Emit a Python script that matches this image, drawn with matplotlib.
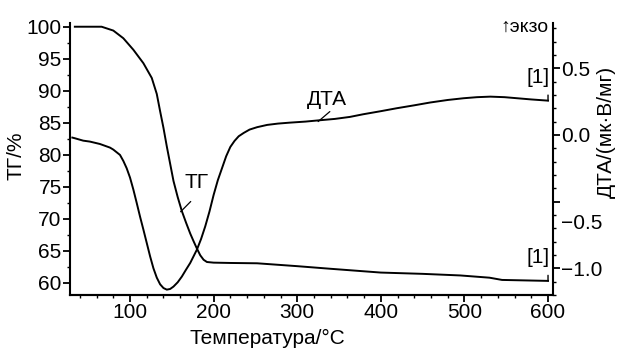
import numpy as np
import matplotlib
matplotlib.use("Agg")
import matplotlib.pyplot as plt
from matplotlib.ticker import MultipleLocator, FixedLocator
import matplotlib.transforms as mtransforms

plt.rcParams['font.family'] = ['Liberation Sans', 'DejaVu Sans']

# ТГ curve (mass, %)
temp_tg = [34, 66, 80, 92, 104, 116, 126, 132, 136, 140, 144, 148, 152, 157, 162, 167,
           172, 176, 180, 184, 188, 192, 200, 220, 252, 300, 339, 400, 450, 495, 530,
           545, 600]
tg = [100, 100, 99.4, 98.2, 96.4, 94.3, 92.0, 89.5, 86.8, 84.2, 81.3, 78.6, 75.9, 73.4,
      71.2, 69.4, 67.7, 66.5, 65.35, 64.3, 63.6, 63.25, 63.15, 63.1, 63.05, 62.6, 62.2,
      61.6, 61.4, 61.15, 60.8, 60.45, 60.3]

# ДТА curve (мкВ/мг)
temp_dta = [31, 34, 44, 52, 64, 76, 80, 88, 92, 96, 100, 104, 108, 112, 116, 120, 124,
            128, 132, 136, 140, 144, 148, 152, 157, 162, 167, 172, 176, 180, 185, 190,
            195, 200, 205, 210, 215, 220, 225, 230, 236, 243, 252, 264, 277, 291, 310,
            327, 345, 363, 379, 400, 419, 440, 459, 480, 499, 515, 531, 548, 563, 580,
            600]
dta = [-0.02, -0.025, -0.043, -0.05, -0.068, -0.095, -0.11, -0.15, -0.195, -0.25, -0.32,
       -0.41, -0.51, -0.613, -0.71, -0.81, -0.91, -1.0, -1.07, -1.12, -1.148, -1.16,
       -1.155, -1.137, -1.105, -1.062, -1.01, -0.96, -0.91, -0.86, -0.78, -0.685, -0.575,
       -0.45, -0.34, -0.25, -0.16, -0.09, -0.045, -0.01, 0.015, 0.04, 0.058, 0.075, 0.085,
       0.092, 0.1, 0.11, 0.12, 0.135, 0.155, 0.178, 0.2, 0.222, 0.243, 0.262, 0.275,
       0.283, 0.287, 0.283, 0.275, 0.266, 0.257]

tg_ticks = [60, 65, 70, 75, 80, 85, 90, 95, 100]
dta_ticks = [-1.0, -0.5, 0.0, 0.5]
temp_ticks = [100, 200, 300, 400, 500, 600]

fig = plt.figure(figsize=(6.2, 3.52), dpi=100)
ax = fig.add_axes([0.1129, 0.162, 0.7791, 0.773])
ax2 = ax.twinx()

fs = 15
lw = 1.4

ax.plot(temp_tg, tg, color='black', lw=lw)
ax2.plot(temp_dta, dta, color='black', lw=lw)

ax.set_xlim(28.2, 606)
ax.set_ylim(58.1, 100.6)
ax2.set_ylim(-1.2, 0.84)

ax.xaxis.set_major_locator(FixedLocator(temp_ticks))
ax.xaxis.set_minor_locator(MultipleLocator(20))
ax.yaxis.set_major_locator(FixedLocator(tg_ticks))
ax.yaxis.set_minor_locator(MultipleLocator(2.5))
ax2.yaxis.set_major_locator(FixedLocator(dta_ticks))
ax2.yaxis.set_minor_locator(MultipleLocator(0.1))
ax2.yaxis.set_major_formatter(plt.FuncFormatter(lambda v, p: f"{v:.1f}".replace('-', '\u2212')))

for a in (ax, ax2):
    a.spines['top'].set_visible(False)
    for s in a.spines.values():
        s.set_linewidth(1.5)
    a.tick_params(which='major', direction='out', length=5, width=1.3, labelsize=fs, pad=1)
    a.tick_params(which='minor', direction='out', length=2.5, width=1)
ax2.spines['left'].set_visible(False)
ax.spines['right'].set_visible(False)

ax.set_xlabel('Температура/°C', fontsize=fs)
ax.xaxis.set_label_coords(0.408, -0.125)
ax.set_ylabel('ТГ/%', fontsize=fs)
ax.yaxis.set_label_coords(-0.093, 0.51)
ax2.set_ylabel('ДТА/(мк·В/мг)', fontsize=fs, rotation=90)
ax2.yaxis.set_label_coords(1.091, 0.6)

# curve labels with pointer lines
ax.text(179.8, 75.6, 'ТГ', fontsize=fs, ha='center', va='center')
ax.annotate('', xy=(160.5, 71.1), xytext=(172.6, 72.7),
            arrowprops=dict(arrowstyle='-', lw=0.9, shrinkA=0, shrinkB=0))
ax2.text(335, 0.265, 'ДТА', fontsize=fs, ha='center', va='center')
ax2.annotate('', xy=(325, 0.1), xytext=(339, 0.175),
             arrowprops=dict(arrowstyle='-', lw=0.9, shrinkA=0, shrinkB=0))

# end markers [1]
for a, xs, ys in ((ax, temp_tg, tg), (ax2, temp_dta, dta)):
    a.annotate('', xy=(xs[-1], ys[-1]), xytext=(0, 4), textcoords='offset points',
               arrowprops=dict(arrowstyle='-', lw=1.0, shrinkA=0, shrinkB=0))
    a.annotate('[1]', xy=(xs[-1], ys[-1]), xytext=(1, 10), textcoords='offset points',
               ha='right', va='bottom', fontsize=fs)

ax.text(0.99, 0.985, '↑экзо', transform=ax.transAxes, ha='right', va='center', fontsize=14)

# the −0.5 label sits a bit lower in the original
fig.canvas.draw()
for lab in ax2.get_yticklabels():
    if lab.get_text() == '\u22120.5':
        lab.set_transform(lab.get_transform() + mtransforms.ScaledTranslation(0, -0.2, fig.dpi_scale_trans))

fig.savefig('out.png', dpi=100)
